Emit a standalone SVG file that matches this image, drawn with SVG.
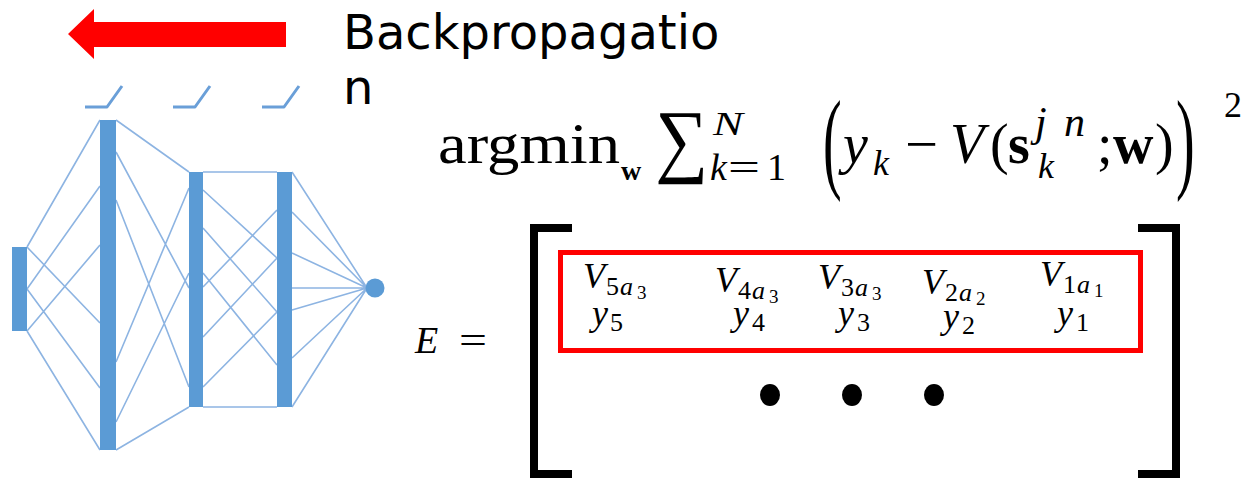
<svg xmlns="http://www.w3.org/2000/svg" width="1250" height="479" viewBox="0 0 1250 479">
<style>
.bar{fill:#5b9bd5}
.cn{stroke:#8db4e2;stroke-width:1.6;fill:none}
.act{stroke:#6a9fd8;stroke-width:3;fill:none;stroke-linejoin:round}
.m{font-family:"Liberation Serif",serif;fill:#000}
.i{font-style:italic}
.b{font-weight:bold}
.lbl{font-family:"DejaVu Sans",sans-serif;font-size:48px;fill:#000}
</style>
<rect width="1250" height="479" fill="#fff"/>

<g id="arrow">
<polygon points="68,34 94,9 94,22 286,22 286,47 94,47 94,59" fill="#ff0000"/>
</g>
<g id="label">
<text class="lbl" x="343" y="49">Backpropagatio</text>
<text class="lbl" x="343" y="104">n</text>
</g>

<g id="activations">
<polyline class="act" points="85,107 107,107 122,86"/>
<polyline class="act" points="173,107 195,107 210,86"/>
<polyline class="act" points="262,107 284,107 299,86"/>
</g>

<g id="connectors">
<path class="cn" d="M27,247L100,120M27,247L100,323M27,289L100,186M27,289L100,388M27,331L100,245M27,331L100,450"/>
<path class="cn" d="M116,120L189,172M116,152L189,288M116,200L189,387M116,362L189,188M116,422L189,273M116,450L189,407"/>
<path class="cn" d="M203,172L277,172M203,407L277,407M203,190L277,258M203,228L277,312M203,273L277,365M203,287L277,210M203,337L277,258M203,387L277,312"/>
<path class="cn" d="M292,172L367,288M292,212L367,288M292,253L367,288M292,288L367,288M292,310L367,288M292,358L367,288M292,407L367,288"/>
</g>

<g id="input"><rect class="bar" x="12" y="247" width="15" height="84"/></g>
<g id="hidden1"><rect class="bar" x="100" y="120" width="16" height="330"/></g>
<g id="hidden2"><rect class="bar" x="189" y="172" width="14" height="235"/></g>
<g id="hidden3"><rect class="bar" x="277" y="172" width="15" height="235"/></g>
<g id="output"><circle class="bar" cx="375" cy="288" r="9.5"/></g>

<g id="formula">
<text class="m" x="438" y="163" font-size="56" textLength="182" lengthAdjust="spacingAndGlyphs">argmin</text>
<text class="m b" x="621" y="180" font-size="28">w</text>
<text class="m" x="655" y="167" font-size="82" textLength="53" lengthAdjust="spacingAndGlyphs">∑</text>
<text class="m i" x="713" y="135" font-size="34" textLength="30" lengthAdjust="spacingAndGlyphs">N</text>
<text class="m i" x="710" y="180" font-size="38">k</text>
<text class="m" x="728" y="180" font-size="38" textLength="32" lengthAdjust="spacingAndGlyphs">=</text>
<text class="m" x="767" y="180" font-size="38">1</text>
<text class="m" transform="translate(823,0) scale(1,2)" x="0" y="89" font-size="56">(</text>
<text class="m i" x="843" y="163" font-size="56">y</text>
<text class="m i" x="873" y="175" font-size="36">k</text>
<text class="m" x="905" y="163" font-size="56" textLength="33" lengthAdjust="spacingAndGlyphs">−</text>
<text class="m i" x="950" y="163" font-size="56">V</text>
<text class="m" x="990" y="163" font-size="56">(</text>
<text class="m b" x="1008" y="163" font-size="56">s</text>
<text class="m i" x="1035" y="136" font-size="42" textLength="50" lengthAdjust="spacing">jn</text>
<text class="m i" x="1038" y="178" font-size="36">k</text>
<text class="m" x="1097" y="163" font-size="56">;</text>
<text class="m b" x="1113" y="163" font-size="56">w</text>
<text class="m" x="1155" y="163" font-size="56">)</text>
<text class="m" transform="translate(1176,0) scale(1,2)" x="0" y="89" font-size="56">)</text>
<text class="m" x="1224" y="117" font-size="36">2</text>
</g>

<g id="matrix">
<text class="m i" x="415" y="353" font-size="38">E</text>
<text class="m" x="459" y="353" font-size="38" textLength="28" lengthAdjust="spacingAndGlyphs">=</text>
<path d="M572,228 H534 V474 H572" fill="none" stroke="#000" stroke-width="8"/>
<path d="M1138,228 H1176 V474 H1138" fill="none" stroke="#000" stroke-width="8"/>
<g id="row">
<rect x="560.5" y="252.5" width="580" height="98" fill="none" stroke="#ff0000" stroke-width="5"/>
<text class="m i" x="583" y="288" font-size="36">V</text>
<text class="m" x="606" y="295" font-size="26">5</text>
<text class="m i" x="620" y="295" font-size="26">a</text>
<text class="m" x="637" y="299" font-size="19">3</text>
<text class="m i" x="592" y="325" font-size="36">y</text>
<text class="m" x="610" y="331" font-size="26">5</text>

<text class="m i" x="715" y="292" font-size="36">V</text>
<text class="m" x="738" y="299" font-size="26">4</text>
<text class="m i" x="752" y="299" font-size="26">a</text>
<text class="m" x="769" y="303" font-size="19">3</text>
<text class="m i" x="733" y="325" font-size="36">y</text>
<text class="m" x="752" y="331" font-size="26">4</text>

<text class="m i" x="818" y="289" font-size="36">V</text>
<text class="m" x="841" y="296" font-size="26">3</text>
<text class="m i" x="855" y="296" font-size="26">a</text>
<text class="m" x="872" y="300" font-size="19">3</text>
<text class="m i" x="838" y="325" font-size="36">y</text>
<text class="m" x="857" y="331" font-size="26">3</text>

<text class="m i" x="922" y="294" font-size="36">V</text>
<text class="m" x="945" y="301" font-size="26">2</text>
<text class="m i" x="959" y="301" font-size="26">a</text>
<text class="m" x="976" y="305" font-size="19">2</text>
<text class="m i" x="943" y="328" font-size="36">y</text>
<text class="m" x="962" y="334" font-size="26">2</text>

<text class="m i" x="1040" y="286" font-size="36">V</text>
<text class="m" x="1063" y="293" font-size="26">1</text>
<text class="m i" x="1077" y="293" font-size="26">a</text>
<text class="m" x="1094" y="297" font-size="19">1</text>
<text class="m i" x="1057" y="325" font-size="36">y</text>
<text class="m" x="1076" y="331" font-size="26">1</text>
</g>
<ellipse cx="770" cy="395" rx="10" ry="11"/>
<ellipse cx="852" cy="395" rx="10" ry="11"/>
<ellipse cx="934" cy="395" rx="10" ry="11"/>
</g>
</svg>
